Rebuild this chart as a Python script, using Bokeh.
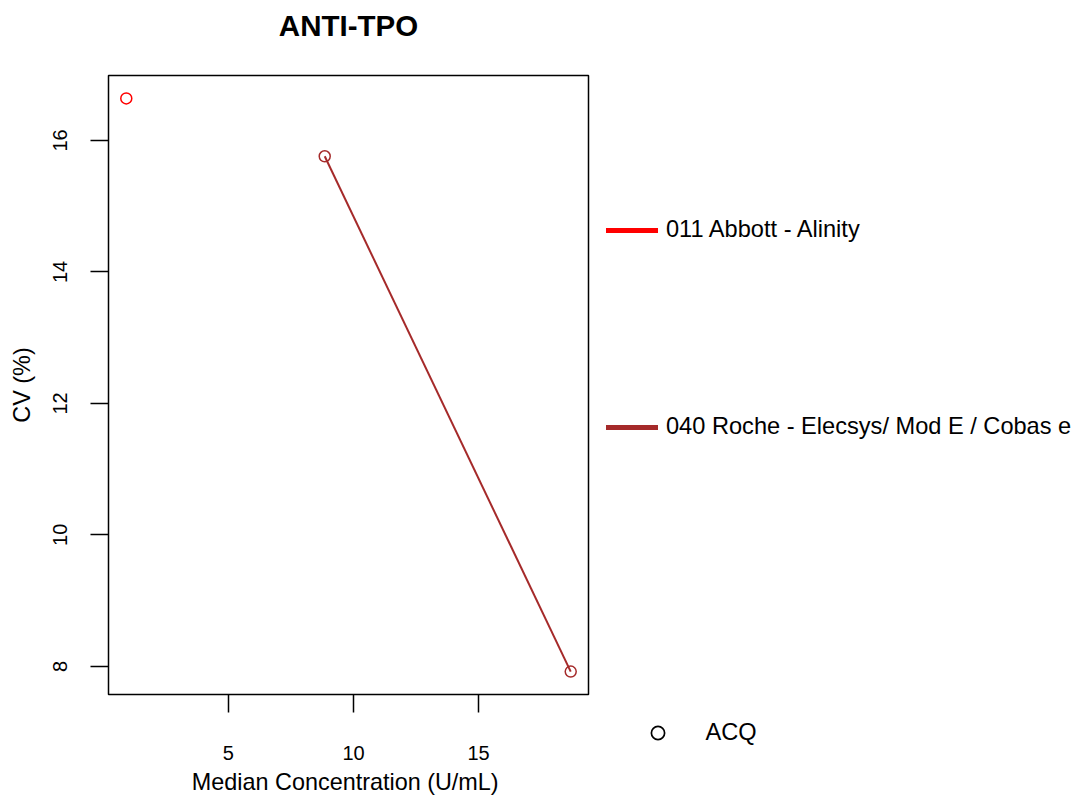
from bokeh.plotting import figure
from bokeh.models import Range1d, FixedTicker, Legend, LegendItem, LinearAxis
from bokeh.layouts import row
from bokeh.embed import file_html
from bokeh.resources import INLINE

# ---- data ----
title = "ANTI-TPO"
abbott_label = "011 Abbott - Alinity"
abbott_x = [0.92]
abbott_y = [16.64]
roche_label = "040 Roche - Elecsys/ Mod E / Cobas e"
roche_x = [8.85, 18.68]
roche_y = [15.76, 7.92]
acq_label = "ACQ"
x_ticks = [5, 10, 15]
y_ticks = [8, 10, 12, 14, 16]
x_label = "Median Concentration  (U/mL)"
y_label = "CV (%)"

RED = "#FF0000"
BROWN = "#A52A2A"
FONT = "Liberation Sans"

all_x = abbott_x + roche_x
all_y = abbott_y + roche_y


def rrange(v):
    lo, hi = min(v), max(v)
    pad = 0.04 * (hi - lo)
    return Range1d(lo - pad, hi + pad)


H = 798
p = figure(width=600, height=H, output_backend="svg", toolbar_location=None,
           x_range=rrange(all_x), y_range=rrange(all_y),
           min_border_left=108, min_border_right=12, min_border_top=75, min_border_bottom=104)
p.frame_align = False
p.background_fill_color = "white"
p.border_fill_color = "white"
p.grid.visible = False
p.outline_line_color = "black"
p.outline_line_width = 1.5
p.outline_line_alpha = 1

xax = p.below[0]
yax = p.left[0]

# invisible top axis (one hidden tick, empty label) used as a spacer between frame and title
spacer = LinearAxis(ticker=FixedTicker(ticks=x_ticks[:1]), axis_line_color=None,
                    major_tick_line_color=None, minor_tick_line_color=None,
                    major_label_overrides={x_ticks[0]: ""},
                    major_label_text_font_size="0px", major_label_text_alpha=0,
                    major_label_standoff=0,
                    major_tick_out=34, major_tick_in=0, minor_tick_out=0, minor_tick_in=0)
p.add_layout(spacer, "above")

p.title.text = title
p.title.text_font = FONT
p.title.text_font_size = "29.5px"
p.title.text_font_style = "bold"
p.title.text_color = "black"
p.title.align = "center"
p.title.vertical_align = "bottom"
p.title.standoff = 0

for ax in (xax, yax):
    ax.axis_line_color = None
    ax.major_tick_out = 18
    ax.major_tick_in = 0
    ax.minor_tick_out = 0
    ax.minor_tick_in = 0
    ax.major_tick_line_width = 1.5
    ax.major_tick_line_color = "black"
    ax.major_label_text_font = FONT
    ax.major_label_text_font_size = "20px"
    ax.major_label_text_color = "black"
    ax.axis_label_text_font = FONT
    ax.axis_label_text_font_size = "23.4px"
    ax.axis_label_text_font_style = "normal"
    ax.axis_label_text_color = "black"

xax.ticker = FixedTicker(ticks=x_ticks)
yax.ticker = FixedTicker(ticks=y_ticks)
xax.axis_label = x_label
yax.axis_label = y_label
xax.major_label_standoff = 33
xax.axis_label_standoff = 6
yax.major_label_standoff = 23
yax.axis_label_standoff = 16
yax.major_label_orientation = "vertical"

# data
p.line(roche_x, roche_y, line_color=BROWN, line_width=2)
p.scatter(roche_x, roche_y, marker="circle", size=11, fill_color=None, line_color=BROWN, line_width=1.5)
p.scatter(abbott_x, abbott_y, marker="circle", size=11, fill_color=None, line_color=RED, line_width=1.5)

# ---- legend area (separate borderless panel to the right) ----
p2 = figure(width=471, height=H, output_backend="svg", toolbar_location=None,
            x_range=Range1d(0, 1), y_range=Range1d(0, 1),
            x_axis_type=None, y_axis_type=None,
            min_border=0, min_border_left=0, min_border_right=0, min_border_top=0, min_border_bottom=0)
p2.frame_align = False
p2.outline_line_color = None
p2.grid.visible = False
p2.background_fill_color = "white"
p2.border_fill_color = "white"

# legend proxies (placed outside the visible range; only their legend glyphs show)
r_red = p2.line([-2, -1], [-2, -1], line_color=RED, line_width=5, line_cap="round")
r_brown = p2.line([-2, -1], [-2, -1], line_color=BROWN, line_width=5, line_cap="round")
r_acq = p2.scatter([-1], [-1], marker="circle", size=13, fill_color=None, line_color="black", line_width=1.7)


def make_legend(label, rend, loc, gw, gh, standoff, fs):
    lg = Legend(items=[LegendItem(label=label, renderers=[rend])], location=loc,
                glyph_width=gw, glyph_height=gh, label_height=gh, label_standoff=standoff,
                padding=0, margin=0, spacing=0,
                border_line_alpha=0, background_fill_alpha=0,
                label_text_font=FONT, label_text_font_size=fs, label_text_color="black")
    p2.add_layout(lg, "center")


make_legend(abbott_label, r_red, (6, 555), 52, 26, 8, "23.6px")
make_legend(roche_label, r_brown, (6, 358), 52, 26, 8, "23.6px")
make_legend(acq_label, r_acq, (40.5, 49.5), 33, 33, 32, "23.6px")

layout = row(p, p2)
open("out.html", "w").write(file_html(layout, INLINE))
